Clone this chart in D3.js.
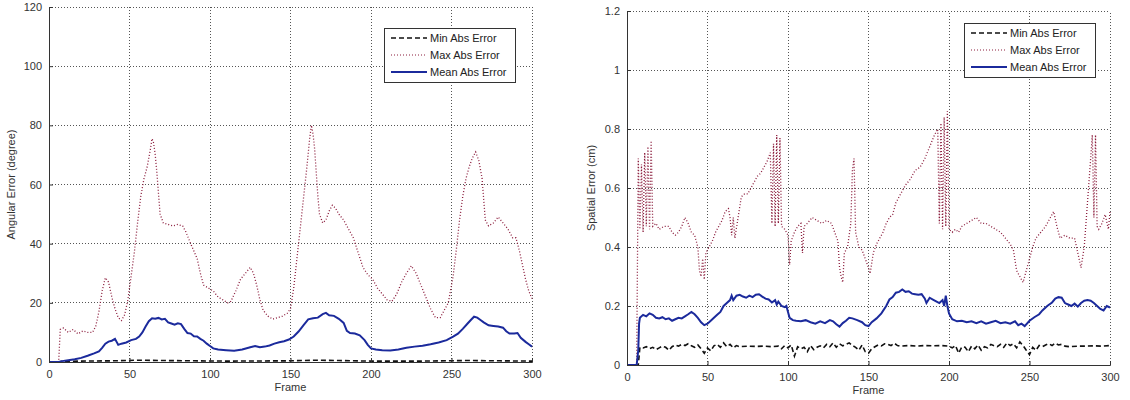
<!DOCTYPE html>
<html>
<head>
<meta charset="utf-8">
<script src="https://cdn.jsdelivr.net/npm/d3@7"></script>
<style>
  body { margin: 0; background: #fff; }
  svg text { font-family: "Liberation Sans", Arial, sans-serif; }
</style>
</head>
<body>
<svg id="chart" width="1130" height="400"></svg>
<script>
// frame axis, shared by both panels
const frameTicks = [0, 50, 100, 150, 200, 250, 300];
const legendLabels = ["Min Abs Error", "Max Abs Error", "Mean Abs Error"];

// left panel: angular error (degree), [frame, value]
const angTicks = [0, 20, 40, 60, 80, 100, 120];
const angMin = [[0,0],[6,0],[8,0.2],[20,0.3],[40,0.4],[55,0.6],[70,0.5],[90,0.4],[110,0.3],[130,0.35],[150,0.4],[165,0.6],[180,0.5],[200,0.3],[230,0.3],[260,0.5],[280,0.4],[300,0.3]];
const angMax = [[0,0],[6,0],[7,11],[9,11.5],[12,10],[15,11],[18,9.5],[21,10.5],[24,10],[27,10],[29,12],[31,17],[33,24],[35,28.5],[37,27],[39,22],[41,18],[43,15],[45,14],[47,16],[49,21],[51,29],[53,37],[55,47],[57,56],[59,62],[61,66],[63,72],[64,75.5],[65,74],[66,70],[67,64],[68,57],[69,50],[71,47],[74,46.5],[77,46],[80,46.5],[83,46],[85,44],[88,40],[90,37.5],[92,35],[94,30],[96,26],[99,25],[102,24],[105,22],[108,21],[111,20],[113,20.5],[116,24],[119,28],[122,30],[125,32],[127,30],[129,26],[131,21],[133,17.5],[136,15.5],[139,14.5],[142,15],[145,15.5],[148,16.5],[150,18],[152,25],[154,35],[156,45],[158,55],[160,65],[162,76],[163,80],[164,77],[165,72],[166,64],[167,56],[168,50],[170,47],[172,48],[174,51],[176,53],[178,52],[180,50],[183,48],[186,45],[189,42],[192,37],[195,32],[198,29.5],[201,28],[204,25],[207,23],[210,21],[213,20.5],[216,23],[219,27],[222,30],[225,32.5],[228,30],[231,26],[234,22],[237,18],[240,15],[243,15],[246,18],[248,20],[251,29],[253,38],[255,48],[257,56],[259,62],[261,66],[263,69],[265,71],[267,68],[269,62],[270,55],[271,48],[273,46],[276,47],[279,49],[282,47],[285,45],[288,42],[290,42],[292,38],[294,33],[296,28],[298,24],[300,21.5]];
const angMean = [[0,0],[6,0],[8,0.3],[12,0.6],[16,0.9],[20,1.4],[24,2.1],[28,2.9],[31,3.6],[33,4.8],[35,6.2],[37,6.9],[39,7.2],[41,7.8],[42,6.8],[43,5.8],[45,6.2],[48,6.6],[51,7.4],[54,7.8],[56,8.6],[58,10],[60,12],[62,13.8],[64,14.8],[66,14.6],[68,14.9],[70,14.4],[72,14.6],[74,13.4],[76,13],[78,12.6],[80,13.1],[82,12.8],[84,11.2],[86,9.8],[88,9.6],[90,8.7],[92,8.6],[94,7.8],[96,7.2],[98,6.2],[100,5.4],[102,4.6],[105,4.2],[110,4.0],[115,3.8],[120,4.2],[125,5.0],[128,5.4],[131,5.0],[134,5.2],[137,5.6],[140,6.2],[143,6.7],[146,7.0],[149,7.6],[152,8.6],[155,10.3],[158,12.4],[161,14.4],[164,14.8],[167,15.0],[170,16.2],[172,16.6],[174,15.8],[177,15.6],[180,14.6],[183,13.2],[185,10.5],[187,9.8],[190,9.6],[193,9.0],[196,7.4],[198,5.8],[200,4.6],[203,4.2],[207,4.0],[212,3.9],[217,4.2],[222,4.8],[227,5.2],[232,5.5],[237,6.0],[242,6.6],[247,7.4],[251,8.6],[254,9.6],[257,11.2],[260,13.0],[262,14.2],[264,15.3],[266,15.0],[268,14.2],[270,13.4],[273,12.4],[276,12.2],[279,12.0],[282,11.6],[284,10.4],[286,9.6],[289,9.6],[291,9.8],[293,8.2],[296,6.8],[298,6.0],[300,5.2]];

// right panel: spatial error (cm)
const spaTicks = [0, 0.2, 0.4, 0.6, 0.8, 1, 1.2];
const spaMin = [[0,0],[7,0],[8,0.06],[10,0.058],[12,0.062],[14,0.055],[16,0.06],[18,0.052],[20,0.058],[22,0.064],[24,0.06],[26,0.05],[28,0.062],[30,0.068],[32,0.064],[34,0.07],[36,0.066],[38,0.072],[40,0.065],[42,0.06],[44,0.068],[46,0.055],[48,0.04],[50,0.058],[52,0.048],[54,0.065],[56,0.07],[58,0.06],[60,0.075],[62,0.062],[64,0.07],[66,0.058],[68,0.066],[70,0.062],[75,0.064],[80,0.063],[85,0.064],[90,0.062],[94,0.064],[96,0.055],[98,0.066],[100,0.058],[102,0.068],[104,0.03],[106,0.062],[108,0.055],[110,0.06],[112,0.045],[114,0.066],[116,0.052],[118,0.06],[120,0.065],[122,0.058],[124,0.07],[126,0.062],[128,0.075],[130,0.06],[132,0.072],[134,0.065],[136,0.07],[138,0.075],[140,0.066],[142,0.06],[144,0.05],[146,0.068],[148,0.045],[150,0.04],[152,0.055],[154,0.062],[156,0.068],[158,0.065],[160,0.072],[162,0.07],[164,0.066],[166,0.074],[168,0.066],[170,0.064],[175,0.066],[180,0.064],[185,0.066],[190,0.065],[195,0.066],[200,0.064],[202,0.058],[204,0.066],[206,0.04],[208,0.062],[210,0.06],[212,0.045],[214,0.064],[216,0.055],[218,0.068],[220,0.05],[222,0.062],[224,0.058],[226,0.07],[228,0.065],[230,0.062],[232,0.07],[234,0.06],[236,0.075],[238,0.066],[240,0.072],[242,0.058],[244,0.078],[246,0.066],[248,0.05],[250,0.035],[252,0.06],[254,0.05],[256,0.066],[258,0.062],[260,0.068],[262,0.072],[264,0.066],[266,0.074],[268,0.068],[270,0.07],[272,0.064],[275,0.062],[280,0.064],[285,0.064],[290,0.065],[295,0.064],[300,0.066]];
const spaMax = [[0,0],[6,0],[7,0.7],[8,0.46],[9,0.68],[10,0.45],[11,0.72],[12,0.47],[13,0.74],[14,0.46],[15,0.76],[16,0.47],[18,0.48],[20,0.46],[23,0.47],[26,0.47],[28,0.45],[30,0.44],[32,0.45],[34,0.47],[36,0.5],[38,0.48],[40,0.45],[42,0.44],[44,0.4],[45,0.32],[46,0.3],[47,0.36],[48,0.29],[49,0.38],[51,0.4],[53,0.42],[55,0.45],[57,0.47],[59,0.49],[61,0.52],[63,0.53],[64,0.5],[65,0.44],[66,0.5],[67,0.43],[69,0.5],[71,0.57],[73,0.58],[75,0.58],[77,0.6],[79,0.62],[81,0.64],[83,0.65],[85,0.67],[87,0.69],[89,0.72],[90,0.48],[91,0.75],[92,0.47],[93,0.78],[94,0.48],[95,0.77],[96,0.47],[98,0.46],[100,0.44],[101,0.34],[102,0.42],[104,0.45],[106,0.47],[108,0.48],[109,0.38],[110,0.47],[112,0.48],[115,0.5],[118,0.49],[121,0.48],[124,0.49],[127,0.48],[129,0.45],[131,0.42],[132,0.33],[133,0.3],[134,0.28],[135,0.38],[137,0.4],[139,0.48],[140,0.66],[141,0.7],[142,0.45],[144,0.4],[146,0.39],[148,0.36],[150,0.33],[151,0.31],[153,0.38],[155,0.41],[157,0.43],[159,0.45],[161,0.48],[163,0.5],[165,0.51],[167,0.55],[170,0.58],[173,0.61],[176,0.63],[179,0.66],[182,0.67],[185,0.7],[188,0.74],[191,0.78],[193,0.8],[194,0.48],[195,0.82],[196,0.46],[197,0.84],[198,0.47],[199,0.86],[200,0.46],[202,0.45],[204,0.46],[206,0.45],[208,0.47],[211,0.48],[214,0.49],[217,0.5],[220,0.48],[223,0.48],[226,0.47],[229,0.46],[232,0.45],[235,0.43],[238,0.41],[240,0.39],[242,0.32],[244,0.3],[246,0.28],[248,0.32],[250,0.36],[252,0.4],[254,0.43],[257,0.45],[260,0.47],[263,0.5],[265,0.52],[267,0.47],[269,0.43],[272,0.44],[275,0.43],[278,0.43],[280,0.38],[282,0.33],[284,0.4],[286,0.55],[288,0.7],[289,0.78],[290,0.5],[291,0.78],[292,0.47],[293,0.46],[295,0.48],[297,0.51],[299,0.46],[300,0.52]];
const spaMean = [[0,0],[6,0],[7,0.05],[7.5,0.14],[8,0.16],[10,0.17],[12,0.165],[14,0.175],[16,0.17],[18,0.16],[20,0.158],[22,0.162],[24,0.155],[26,0.158],[28,0.15],[30,0.155],[32,0.16],[34,0.158],[36,0.165],[38,0.172],[40,0.18],[42,0.172],[44,0.16],[46,0.145],[48,0.135],[50,0.14],[52,0.15],[54,0.16],[56,0.17],[58,0.18],[60,0.2],[62,0.21],[64,0.22],[65,0.235],[66,0.22],[68,0.235],[70,0.238],[72,0.232],[74,0.228],[76,0.235],[78,0.23],[80,0.238],[82,0.24],[84,0.232],[86,0.225],[88,0.222],[90,0.212],[92,0.22],[93,0.205],[94,0.215],[96,0.2],[98,0.196],[99,0.2],[100,0.18],[101,0.16],[103,0.152],[105,0.15],[108,0.148],[111,0.152],[114,0.145],[117,0.14],[120,0.148],[123,0.142],[126,0.152],[128,0.148],[130,0.138],[132,0.13],[134,0.142],[136,0.15],[138,0.16],[140,0.158],[143,0.152],[146,0.145],[148,0.135],[150,0.132],[152,0.145],[155,0.158],[158,0.175],[161,0.2],[163,0.222],[165,0.23],[167,0.245],[169,0.248],[171,0.256],[173,0.248],[175,0.25],[177,0.242],[179,0.24],[181,0.238],[183,0.24],[185,0.225],[186,0.21],[188,0.228],[190,0.222],[192,0.216],[194,0.21],[196,0.22],[197,0.2],[198,0.235],[199,0.2],[200,0.175],[202,0.155],[205,0.148],[208,0.15],[211,0.145],[214,0.148],[217,0.142],[220,0.148],[223,0.14],[226,0.145],[229,0.15],[232,0.142],[235,0.145],[238,0.14],[241,0.148],[243,0.135],[245,0.14],[247,0.132],[250,0.15],[253,0.162],[256,0.172],[258,0.185],[261,0.2],[264,0.212],[266,0.225],[268,0.23],[270,0.228],[272,0.21],[274,0.205],[276,0.2],[278,0.208],[280,0.198],[282,0.21],[284,0.218],[286,0.22],[288,0.218],[290,0.21],[292,0.2],[294,0.19],[296,0.185],[298,0.2],[300,0.195]];

const styles = [
  {stroke: "#111", width: 1.6, dash: "5,3"},     // min
  {stroke: "#8b1c3c", width: 1.3, dash: "1,2"},  // max
  {stroke: "#1b2a9c", width: 2, dash: null}      // mean
];

const svg = d3.select("#chart");

function drawPanel(p) {
  const x = d3.scaleLinear().domain([0, 300]).range([p.left, p.right]);
  const y = d3.scaleLinear().domain([0, p.yMax]).range([p.bottom, p.top]);
  const g = svg.append("g");

  // dotted grid
  g.selectAll(".gx").data(frameTicks.filter(d => d > 0)).enter().append("line")
    .attr("x1", d => x(d)).attr("x2", d => x(d))
    .attr("y1", p.bottom).attr("y2", p.top)
    .attr("stroke", "#555").attr("stroke-dasharray", "1,2").attr("shape-rendering", "crispEdges");
  g.selectAll(".gy").data(p.yTicks.filter(d => d > 0)).enter().append("line")
    .attr("x1", p.left).attr("x2", p.right)
    .attr("y1", d => y(d)).attr("y2", d => y(d))
    .attr("stroke", "#555").attr("stroke-dasharray", "1,2").attr("shape-rendering", "crispEdges");

  // series
  const line = d3.line().x(d => x(d[0])).y(d => y(d[1]));
  p.series.forEach((s, i) => {
    g.append("path").datum(s)
      .attr("d", line)
      .attr("fill", "none")
      .attr("stroke", styles[i].stroke)
      .attr("stroke-width", styles[i].width)
      .attr("stroke-dasharray", styles[i].dash);
  });

  // axes with inward ticks
  const xAxis = g.append("g").attr("transform", `translate(0,${p.bottom})`)
    .call(d3.axisBottom(x).tickValues(frameTicks).tickSize(-4).tickPadding(8));
  const yAxis = g.append("g").attr("transform", `translate(${p.left},0)`)
    .call(d3.axisLeft(y).tickValues(p.yTicks).tickSize(-4).tickPadding(7)
      .tickFormat(p.fmt));
  [xAxis, yAxis].forEach(a => {
    a.select(".domain").attr("stroke", "#333");
    a.selectAll(".tick line").attr("stroke", "#333");
    a.selectAll("text").attr("fill", "#333").style("font-size", "11px")
      .style("font-family", "'Liberation Sans', Arial, sans-serif");
  });

  g.append("text")
    .attr("x", (p.left + p.right) / 2).attr("y", p.bottom + 29)
    .attr("text-anchor", "middle").attr("fill", "#333").style("font-size", "11px")
    .text("Frame");
  g.append("text")
    .attr("transform", `translate(${p.labelX},${(p.top + p.bottom) / 2}) rotate(-90)`)
    .attr("text-anchor", "middle").attr("fill", "#333").style("font-size", "11px")
    .text(p.yLabel);

  // legend
  const L = p.legend;
  g.append("rect")
    .attr("x", L.x).attr("y", L.y).attr("width", L.w).attr("height", L.h)
    .attr("fill", "#fff").attr("stroke", "#333").attr("shape-rendering", "crispEdges");
  legendLabels.forEach((lab, i) => {
    const ly = L.y + 10 + i * 17;
    g.append("line")
      .attr("x1", L.x + 7).attr("x2", L.x + 43).attr("y1", ly).attr("y2", ly)
      .attr("stroke", i === 2 ? "#1b2a9c" : styles[i].stroke)
      .attr("stroke-width", i === 1 ? 1 : styles[i].width)
      .attr("stroke-dasharray", styles[i].dash);
    g.append("text")
      .attr("x", L.x + 46).attr("y", ly + 4)
      .attr("fill", "#222").style("font-size", "11px")
      .text(lab);
  });
}

drawPanel({
  left: 49, right: 532, top: 7, bottom: 362, yMax: 120,
  yTicks: angTicks, fmt: d => d, yLabel: "Angular Error (degree)", labelX: 15,
  series: [angMin, angMax, angMean],
  legend: {x: 384, y: 28, w: 131, h: 54}
});

drawPanel({
  left: 627, right: 1110, top: 11, bottom: 365, yMax: 1.2,
  yTicks: spaTicks, fmt: d => String(+d.toFixed(1)), yLabel: "Spatial Error (cm)", labelX: 595,
  series: [spaMin, spaMax, spaMean],
  legend: {x: 964, y: 23, w: 131, h: 54}
});
</script>
</body>
</html>
